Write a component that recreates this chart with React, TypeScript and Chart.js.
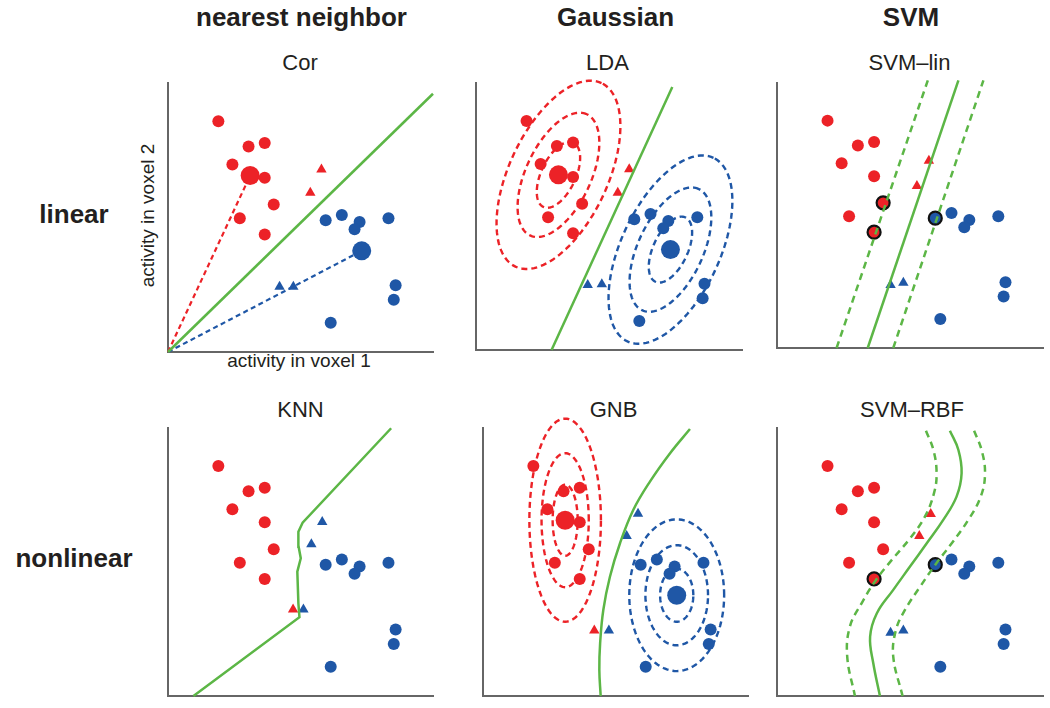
import React, { useEffect, useRef } from "react";
import { Chart, registerables } from "chart.js";
Chart.register(...registerables);

const FONT = '"Liberation Sans", Arial, Helvetica, sans-serif';
const RED = "#ec2227";
const BLUE = "#1f57a6";
const GREEN = "#5cb646";
const AXIS = "#666666";
const INK = "#231f20";

// ---- training points (same in every panel), axis units 0..100 ----
const redX = [19.0, 30.4, 36.5, 24.3, 36.5, 39.9, 27.1, 36.5];
const redY = [85.8, 76.4, 77.7, 69.7, 64.8, 54.8, 49.7, 43.7];
const blueX = [59.5, 65.6, 72.3, 70.4, 83.2, 85.9, 85.2, 61.4];
const blueY = [49.0, 50.9, 48.3, 45.6, 49.7, 24.8, 19.4, 10.9];
const redMean = [31.0, 65.6];
const blueMean = [73.1, 37.6];

// ---- test points (triangles) per panel: x, y, predicted class ----
const corTriX = [57.9, 53.7, 42.1, 47.3];
const corTriY = [67.8, 59.2, 24.3, 24.3];
const corTriCls = ["r", "r", "b", "b"];
const ldaTriX = [57.6, 53.3, 42.0, 47.3];
const ldaTriY = [67.7, 58.9, 24.3, 24.6];
const ldaTriCls = ["r", "r", "b", "b"];
const svmLinTriX = [57.1, 52.6, 42.7, 47.5];
const svmLinTriY = [70.7, 61.1, 23.8, 24.6];
const svmLinTriCls = ["r", "r", "b", "b"];
const knnTriX = [58.2, 54.1, 47.2, 51.1];
const knnTriY = [64.9, 56.6, 32.3, 32.3];
const knnTriCls = ["b", "b", "r", "b"];
const gnbTriX = [58.5, 54.2, 42.0, 47.5];
const gnbTriY = [68.0, 59.7, 24.4, 24.4];
const gnbTriCls = ["b", "b", "r", "b"];
const rbfTriX = [57.8, 53.5, 42.7, 47.5];
const rbfTriY = [67.9, 59.7, 23.6, 24.4];
const rbfTriCls = ["r", "r", "b", "b"];

// ---- decision boundaries ----
const corBoundX = [0, 100];
const corBoundY = [0, 96];
const ldaBoundX = [28.4, 73.8];
const ldaBoundY = [0, 98.5];
const svmLinX = [34.1, 68.2];
const svmLinLowX = [22.4, 56.7];
const svmLinHighX = [43.7, 77.6];
const svmLinY = [0, 101];
const knnBoundX = [9.6, 49.6, 49.2, 48.8, 50.1, 49.3, 49.2, 50.8, 84.2];
const knnBoundY = [0, 29.4, 34.6, 46.4, 51.4, 55.7, 61.3, 64.7, 99.9];
const gnbBoundX = [44.4, 43.9, 44.2, 45.4, 47.9, 51.7, 56.7, 63.0, 70.6, 78.1];
const gnbBoundY = [0, 9.7, 19.7, 32.1, 44.5, 57.0, 69.4, 80.0, 90.6, 99.6];
const rbfX = [65.0, 68.2, 69.4, 67.5, 62.5, 56.3, 50.0, 43.7, 37.5, 35.0, 36.2, 38.7];
const rbfY = [99.0, 91.8, 83.1, 74.4, 65.7, 57.0, 48.3, 39.6, 30.8, 22.1, 12.2, 0];
const rbfLowX = [56.0, 58.8, 60.0, 59.0, 55.6, 50.0, 43.1, 37.2, 31.8, 27.4, 26.4, 29.3];
const rbfLowY = [99.0, 91.8, 83.1, 75.6, 66.9, 58.8, 50.7, 43.3, 34.6, 25.9, 14.7, 0];
const rbfHighX = [74.1, 76.9, 78.2, 76.6, 71.9, 65.7, 59.6, 53.8, 48.1, 44.7, 43.7, 47.2];
const rbfHighY = [99.0, 91.8, 83.1, 74.4, 65.7, 57.0, 49.1, 40.8, 32.1, 24.6, 14.7, 0];

// support vectors (indices into red / blue points)
const svmLinSvRed = [5, 7];
const svmLinSvBlue = [0];
const rbfSvRed = [7];
const rbfSvBlue = [0];

// ---- Gaussian contours: outer semi-axes, orientation, contour levels ----
const contourLevels = [1, 0.66, 0.35];
const ldaSemiAxes = [38.0, 18.5];
const ldaAngleDeg = 64.8;
const gnbRedSemiAxes = [13.5, 37.9];
const gnbBlueSemiAxes = [17.9, 28.3];

type Pt = { x: number; y: number };
const pts = (xs: number[], ys: number[]): Pt[] => xs.map((x, i) => ({ x, y: ys[i] }));

function ellipsePts(c: number[], a: number, b: number, deg: number): Pt[] {
  const t = (deg * Math.PI) / 180;
  const out: Pt[] = [];
  const n = 120;
  for (let i = 0; i <= n; i++) {
    const u = (i / n) * Math.PI * 2;
    out.push({
      x: c[0] + a * Math.cos(u) * Math.cos(t) - b * Math.sin(u) * Math.sin(t),
      y: c[1] + a * Math.cos(u) * Math.sin(t) + b * Math.sin(u) * Math.cos(t),
    });
  }
  return out;
}

const lineDs = (data: Pt[], color: string, opts: any = {}) => ({
  data,
  showLine: true,
  borderColor: color,
  borderWidth: opts.width ?? 2.5,
  borderDash: opts.dash ?? [],
  tension: opts.tension ?? 0,
  pointRadius: 0,
  fill: false,
  clip: false,
  order: opts.order ?? 0,
});
const dotDs = (data: Pt[], color: string, r: number) => ({
  data,
  showLine: false,
  pointStyle: "circle",
  pointRadius: r,
  pointBackgroundColor: color,
  pointBorderWidth: 0,
  clip: false,
  order: 2,
});
const triDs = (xs: number[], ys: number[], cls: string[]) => ({
  data: pts(xs, ys),
  showLine: false,
  pointStyle: "triangle",
  pointRadius: 6,
  pointBackgroundColor: cls.map((c) => (c === "r" ? RED : BLUE)),
  pointBorderWidth: 0,
  clip: false,
  order: 2,
});
const svDs = (idxR: number[], idxB: number[]) => ({
  data: [...idxR.map((i) => ({ x: redX[i], y: redY[i] })), ...idxB.map((i) => ({ x: blueX[i], y: blueY[i] }))],
  showLine: false,
  pointStyle: "circle",
  pointRadius: 6.5,
  pointBackgroundColor: "rgba(0,0,0,0)",
  pointBorderColor: "#111111",
  pointBorderWidth: 2.2,
  clip: false,
  order: 1,
});

const redDots = () => dotDs(pts(redX, redY), RED, 6);
const blueDots = () => dotDs(pts(blueX, blueY), BLUE, 6);
const means = () => [
  dotDs([{ x: redMean[0], y: redMean[1] }], RED, 9.5),
  dotDs([{ x: blueMean[0], y: blueMean[1] }], BLUE, 9.5),
];

const contours = (c: number[], ax: number[], deg: number, color: string) =>
  contourLevels.map((k) => lineDs(ellipsePts(c, ax[0] * k, ax[1] * k, deg), color, { dash: [6, 4], width: 2.4, order: 3 }));

const ORIGIN = { x: 0, y: 0 };

const PANELS = [
  {
    left: 168, top: 83, w: 265, h: 269,
    datasets: () => [
      lineDs(pts(corBoundX, corBoundY), GREEN),
      lineDs([ORIGIN, { x: redMean[0], y: redMean[1] }], RED, { dash: [5, 3.5], width: 2.2, order: 3 }),
      lineDs([ORIGIN, { x: blueMean[0], y: blueMean[1] }], BLUE, { dash: [5, 3.5], width: 2.2, order: 3 }),
      redDots(), blueDots(), ...means(), triDs(corTriX, corTriY, corTriCls),
    ],
  },
  {
    left: 476, top: 83, w: 266, h: 267,
    datasets: () => [
      lineDs(pts(ldaBoundX, ldaBoundY), GREEN),
      ...contours(redMean, ldaSemiAxes, ldaAngleDeg, RED),
      ...contours(blueMean, ldaSemiAxes, ldaAngleDeg, BLUE),
      redDots(), blueDots(), ...means(), triDs(ldaTriX, ldaTriY, ldaTriCls),
    ],
  },
  {
    left: 777, top: 83, w: 266, h: 265,
    datasets: () => [
      lineDs(pts(svmLinX, svmLinY), GREEN),
      lineDs(pts(svmLinLowX, svmLinY), GREEN, { dash: [7, 5] }),
      lineDs(pts(svmLinHighX, svmLinY), GREEN, { dash: [7, 5] }),
      svDs(svmLinSvRed, svmLinSvBlue),
      redDots(), blueDots(), triDs(svmLinTriX, svmLinTriY, svmLinTriCls),
    ],
  },
  {
    left: 168, top: 428, w: 265, h: 268,
    datasets: () => [
      lineDs(pts(knnBoundX, knnBoundY), GREEN),
      redDots(), blueDots(), triDs(knnTriX, knnTriY, knnTriCls),
    ],
  },
  {
    left: 483, top: 428, w: 265, h: 268,
    datasets: () => [
      lineDs(pts(gnbBoundX, gnbBoundY), GREEN, { tension: 0.4 }),
      ...contours(redMean, gnbRedSemiAxes, 0, RED),
      ...contours(blueMean, gnbBlueSemiAxes, 0, BLUE),
      redDots(), blueDots(), ...means(), triDs(gnbTriX, gnbTriY, gnbTriCls),
    ],
  },
  {
    left: 777, top: 428, w: 266, h: 268,
    datasets: () => [
      lineDs(pts(rbfX, rbfY), GREEN, { tension: 0.4 }),
      lineDs(pts(rbfLowX, rbfLowY), GREEN, { dash: [7, 5], tension: 0.4 }),
      lineDs(pts(rbfHighX, rbfHighY), GREEN, { dash: [7, 5], tension: 0.4 }),
      svDs(rbfSvRed, rbfSvBlue),
      redDots(), blueDots(), triDs(rbfTriX, rbfTriY, rbfTriCls),
    ],
  },
];

const PAD = 22;

function Panel({ p }: { p: any }) {
  const ref = useRef<HTMLCanvasElement>(null);
  useEffect(() => {
    const axis = {
      type: "linear",
      min: 0,
      max: 100,
      grid: { display: false, drawTicks: false },
      ticks: { display: false },
      border: { display: true, color: AXIS, width: 2 },
    };
    const chart = new Chart(ref.current as HTMLCanvasElement, {
      type: "scatter",
      data: { datasets: p.datasets() },
      options: {
        responsive: false,
        animation: false,
        events: [],
        layout: { padding: PAD },
        plugins: { legend: { display: false }, tooltip: { enabled: false }, title: { display: false } },
        scales: { x: axis as any, y: axis as any },
      },
    } as any);
    return () => chart.destroy();
  }, []);
  const W = p.w + 2 * PAD;
  const H = p.h + 2 * PAD;
  return (
    <canvas
      ref={ref}
      width={W}
      height={H}
      style={{ position: "absolute", left: p.left - PAD, top: p.top - PAD, width: W, height: H }}
    />
  );
}

const LABELS = [
  { t: "nearest neighbor", cx: 301.5, base: 26, fs: 26, bold: true },
  { t: "Gaussian", cx: 615.5, base: 26, fs: 26, bold: true },
  { t: "SVM", cx: 911, base: 26, fs: 26, bold: true },
  { t: "Cor", cx: 300, base: 70.7, fs: 22, bold: false },
  { t: "LDA", cx: 607.5, base: 70.7, fs: 22, bold: false },
  { t: "SVM\u2013lin", cx: 909.5, base: 70.7, fs: 22, bold: false },
  { t: "KNN", cx: 300.5, base: 417.3, fs: 22, bold: false },
  { t: "GNB", cx: 613.5, base: 417.3, fs: 22, bold: false },
  { t: "SVM\u2013RBF", cx: 912, base: 417.3, fs: 22, bold: false },
  { t: "linear", cx: 74, base: 223.3, fs: 26, bold: true },
  { t: "nonlinear", cx: 74, base: 566.7, fs: 26, bold: true },
  { t: "activity in voxel 1", cx: 299, base: 367.3, fs: 19, bold: false },
];

export default function App() {
  return (
    <div style={{ position: "absolute", left: 0, top: 0, width: 1050, height: 708, background: "#fff", overflow: "hidden", fontFamily: FONT, color: INK }}>
      {LABELS.map((l, i) => (
        <div
          key={i}
          style={{
            position: "absolute",
            left: l.cx - 200,
            width: 400,
            textAlign: "center",
            top: l.base - 0.8465 * l.fs,
            fontSize: l.fs,
            lineHeight: `${l.fs}px`,
            fontWeight: l.bold ? 700 : 400,
            whiteSpace: "nowrap",
          }}
        >
          {l.t}
        </div>
      ))}
      <div
        style={{
          position: "absolute",
          left: 146.7 - 150,
          width: 300,
          top: 215 - 9.5,
          height: 19,
          textAlign: "center",
          fontSize: 19,
          lineHeight: "19px",
          transform: "rotate(-90deg)",
          transformOrigin: "50% 50%",
          whiteSpace: "nowrap",
        }}
      >
        activity in voxel 2
      </div>
      {PANELS.map((p, i) => (
        <Panel key={i} p={p} />
      ))}
    </div>
  );
}
